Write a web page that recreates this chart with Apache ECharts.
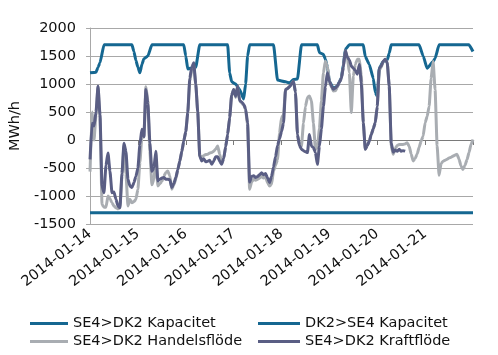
<!DOCTYPE html>
<html>
<head>
<meta charset="utf-8">
<script src="https://cdn.jsdelivr.net/npm/echarts@6/dist/echarts.min.js"></script>
<style>html,body{margin:0;padding:0;background:#fff;}#c{width:498px;height:355px;}</style>
</head>
<body>
<div id="c"></div>
<script>
// x axis: hours since 2014-01-14 00:00
var tickLabels = ['2014-01-14','2014-01-15','2014-01-16','2014-01-17','2014-01-18','2014-01-19','2014-01-20','2014-01-21'];
var seriesNames = ['SE4>DK2 Kapacitet','DK2>SE4 Kapacitet','SE4>DK2 Handelsflöde','SE4>DK2 Kraftflöde'];

// SE4>DK2 Kapacitet: breakpoints (hour, MWh/h)
var capSE4DK2Hours = [0,3,4,5,7,21,22,23,24,25,26,27,29,31,47,48,49,53,55,69,70,71,73,75,77,78,79,80,92,94,98,100,102,104,106,114,115,117,118,119,120,122,124,125,126,127,128,130,137,138,140,142,143,144,145,147,149,150,151,165,167,169,172,173,175,190,192];
var capSE4DK2 = [1200,1210,1300,1380,1700,1700,1580,1420,1300,1200,1350,1450,1500,1700,1700,1500,1270,1300,1700,1700,1200,1040,1000,900,730,1000,1500,1700,1700,1070,1040,1020,1080,1090,1700,1700,1560,1530,1440,1300,1050,920,960,1040,1110,1350,1620,1700,1700,1490,1350,1100,850,780,1280,1400,1430,1550,1700,1700,1500,1280,1400,1460,1700,1700,1580];

// DK2>SE4 Kapacitet (shown negative), one value per day boundary
var capDK2SE4Hours = [0,24,48,72,96,120,144,168,192];
var capDK2SE4 = [-1300,-1300,-1300,-1300,-1300,-1300,-1300,-1300,-1300];

// SE4>DK2 Handelsflöde, hourly from hour 0
var handelsflode = [-565,500,0,450,960,400,-1150,-1200,-1200,-1000,-1050,-1120,-1180,-1210,-1230,-1210,-650,-110,-600,-1180,-1060,-1120,-1100,-1060,
-880,-400,60,50,950,700,-200,-800,-700,-345,-820,-780,-740,-650,-580,-555,-640,-880,-800,-700,-530,-380,-220,-20,
150,480,1050,1250,1330,1000,500,-280,-300,-280,-260,-255,-230,-225,-200,-160,-107,-255,-400,-330,-120,100,400,800,
900,760,950,700,660,620,540,250,-880,-750,-700,-720,-700,-680,-650,-680,-660,-760,-820,-790,-550,-450,-350,120,
400,450,900,920,950,1000,1050,850,100,-100,-110,300,600,760,785,700,300,-165,-130,200,700,1200,1410,1320,
1050,950,875,880,940,1030,1100,1300,1600,1480,1200,490,1140,1350,1440,1440,1150,310,-165,-100,-20,100,200,310,
600,1250,1300,1400,1440,1380,965,-100,-255,-150,-100,-80,-80,-80,-70,-50,-110,-250,-375,-330,-250,-130,-20,70,
310,420,600,1100,1400,900,-100,-630,-420,-380,-360,-345,-320,-310,-285,-270,-255,-345,-465,-525,-450,-350,-225,-80,
10];

// SE4>DK2 Kraftflöde, hourly from hour 0
var kraftflode = [-345,300,250,500,960,450,-820,-940,-450,-230,-560,-940,-930,-1060,-1180,-1210,-600,-60,-200,-700,-820,-850,-760,-650,
-500,-80,190,60,900,650,-50,-560,-500,-200,-730,-700,-680,-670,-700,-700,-710,-850,-780,-670,-530,-380,-200,-20,
150,490,1100,1300,1380,1000,500,-285,-375,-335,-390,-380,-360,-435,-375,-300,-300,-380,-435,-330,-120,100,400,800,
900,780,965,700,680,640,560,300,-750,-650,-640,-670,-650,-620,-585,-620,-600,-680,-760,-650,-480,-300,-100,20,
150,300,900,920,950,1000,1050,850,100,-100,-165,-190,-210,-225,100,-110,-135,-225,-435,-110,200,600,950,1200,
1050,965,905,930,965,1030,1100,1300,1600,1480,1430,1320,1280,1240,1175,1350,1020,310,-165,-100,-20,100,200,310,
600,1280,1320,1410,1440,1380,965,-50,-220,-180,-200,-165,-200,-190,-200];

function pairs(xs, ys){ return ys.map(function(v,i){ return [xs[i], v]; }); }
function hourly(ys){ return ys.map(function(v,i){ return [i, v]; }); }

var capColor = '#156791', grayColor = '#a9adb2', darkColor = '#5a5e84';
var gridColor = '#a8a8a8';
var font = 'DejaVu Sans';

var chart = echarts.init(document.getElementById('c'));
function line(name, color, data){
  return {name:name, type:'line', showSymbol:false, smooth:0.15, smoothMonotone:'x',
          xAxisIndex:0, yAxisIndex:0, color:color, lineStyle:{width:3, color:color}, data:data};
}
chart.setOption({
  animation:false,
  grid:{left:72, right:25, top:28, bottom:131},
  xAxis:[
    {type:'value', min:0, max:192, interval:24, position:'bottom',
     axisLine:{show:false, onZero:false}, axisTick:{show:false}, splitLine:{show:false},
     axisLabel:{rotate:38, margin:8, fontSize:14.5, color:'#111', fontFamily:font, showMaxLabel:false,
       formatter:function(v){ var i=Math.round(v/24); return tickLabels[i]||''; }}},
    {type:'value', min:0, max:192, interval:24, position:'bottom',
     axisLine:{show:true, onZero:true, lineStyle:{color:'#7a7a7a', width:1}},
     axisTick:{show:true, length:5, lineStyle:{color:'#7a7a7a', width:1}},
     axisLabel:{show:false}, splitLine:{show:false}}
  ],
  yAxis:{type:'value', min:-1500, max:2000, interval:500,
    name:'MWh/h', nameLocation:'middle', nameGap:51,
    nameTextStyle:{fontSize:14.5, color:'#111', fontFamily:font},
    axisLine:{show:true, onZero:false, lineStyle:{color:gridColor, width:1}},
    axisTick:{show:true, length:4, lineStyle:{color:gridColor, width:1}},
    axisLabel:{margin:14, fontSize:14.5, color:'#111', fontFamily:font,
      formatter:function(v){ return String(v); }},
    splitLine:{show:true, lineStyle:{color:gridColor, width:1}}},
  legend:[
    {data:[seriesNames[0], seriesNames[2]], orient:'vertical', left:30, top:316, padding:0,
     icon:'rect', itemWidth:38, itemHeight:3, itemGap:3,
     textStyle:{fontSize:14.5, color:'#111', fontFamily:font}},
    {data:[seriesNames[1], seriesNames[3]], orient:'vertical', left:258, top:316, padding:0,
     icon:'rect', itemWidth:42, itemHeight:3, itemGap:3,
     textStyle:{fontSize:14.5, color:'#111', fontFamily:font}}
  ],
  series:[
    line(seriesNames[0], capColor, pairs(capSE4DK2Hours, capSE4DK2)),
    line(seriesNames[1], capColor, pairs(capDK2SE4Hours, capDK2SE4)),
    line(seriesNames[2], grayColor, hourly(handelsflode)),
    line(seriesNames[3], darkColor, hourly(kraftflode))
  ]
});
</script>
</body>
</html>
